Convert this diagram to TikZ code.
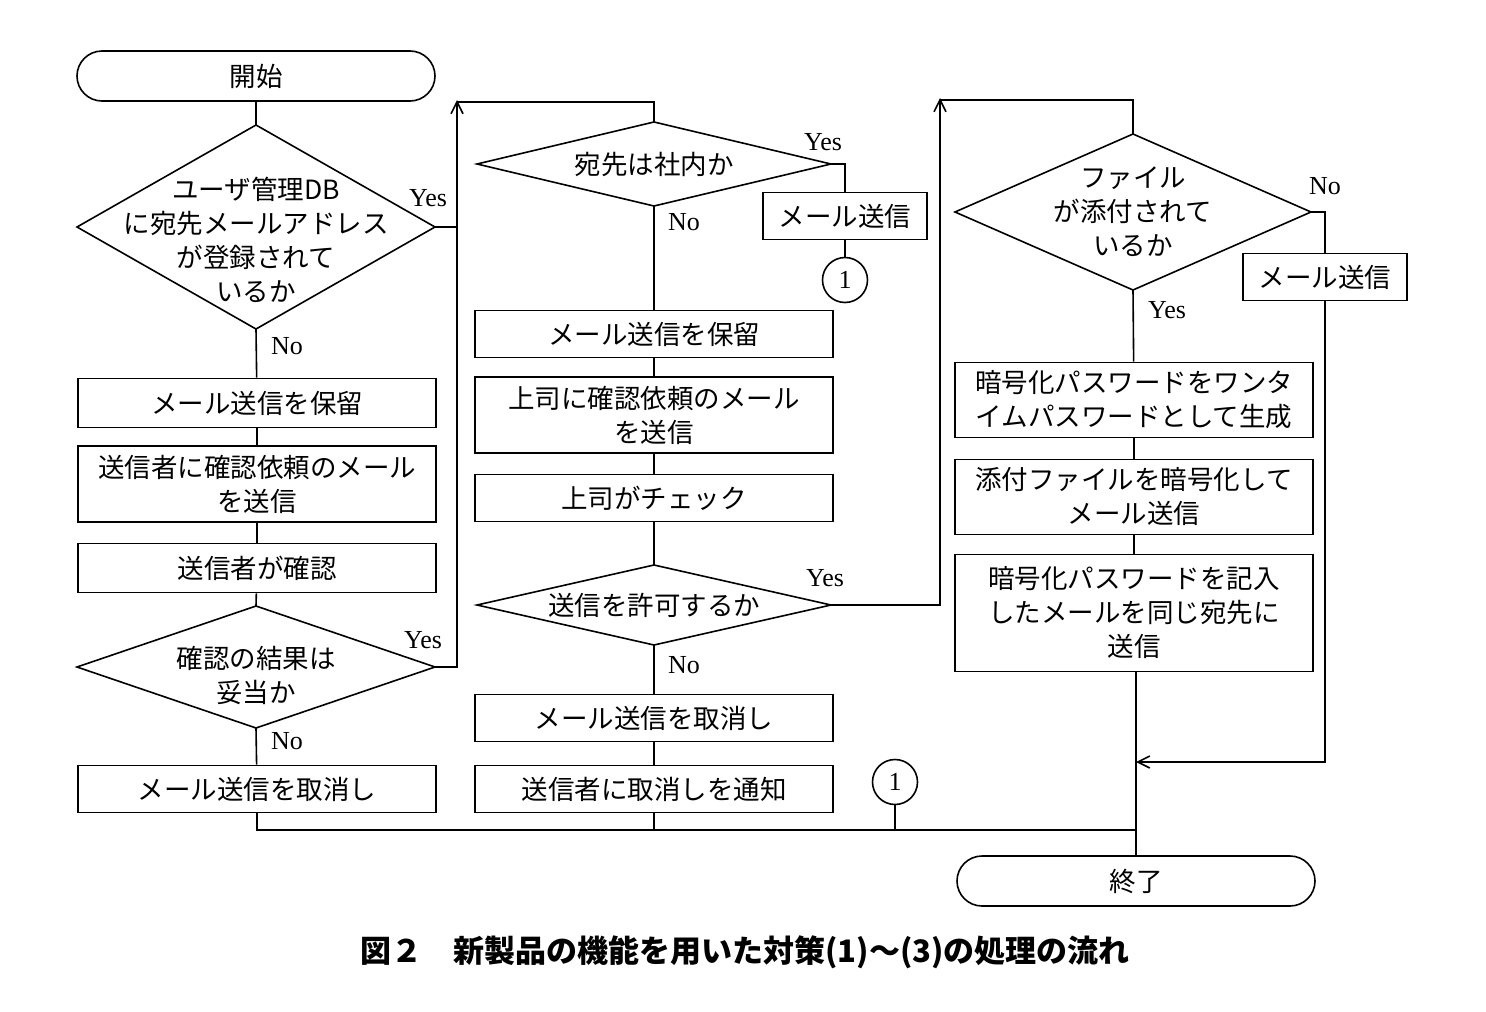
\documentclass[tikz,border=0pt]{standalone}
\usepackage{fontspec}
\setmainfont{Noto Sans CJK JP}
\newfontfamily\lat{Liberation Serif}
\usetikzlibrary{arrows.meta}
\newcommand\mydia[5]{%
  \coordinate (#1-n) at (#2,#3-#5);
  \coordinate (#1-s) at (#2,#3+#5);
  \coordinate (#1-e) at (#2+#4,#3);
  \coordinate (#1-w) at (#2-#4,#3);
  \draw[ln] (#1-n)--(#1-e)--(#1-s)--(#1-w)--cycle;}
\begin{document}
\begin{tikzpicture}[x=1pt,y=-1pt,
  ln/.style={line width=1.6pt},
  box/.style={draw,line width=1.6pt,minimum width=358pt,align=center,inner sep=0pt,font=\fontsize{26.5}{34}\selectfont},
  sbox/.style={draw,line width=1.6pt,minimum width=164pt,minimum height=47pt,inner sep=0pt,font=\fontsize{26.5}{34}\selectfont},
  term/.style={draw,line width=1.6pt,rounded corners=25pt,minimum width=358pt,minimum height=50pt,inner sep=0pt,font=\fontsize{26.5}{34}\selectfont},
  txt/.style={align=center,inner sep=0pt,font=\fontsize{26.5}{34}\selectfont},
  yn/.style={inner sep=0pt,font=\lat\fontsize{26}{30}\selectfont},
  circ/.style={draw,circle,line width=1.6pt,minimum size=45pt,inner sep=0pt,font=\lat\fontsize{26}{30}\selectfont},
  arr/.style={ln,-{Straight Barb[length=12pt,width=12pt,line width=1.6pt]}}]
\useasboundingbox (0,0) rectangle (1486,1012);
% column 1
\node[term] (start) at (256,76) {開始};
\mydia{d1}{256}{227}{179}{102}
\node[txt] (t1) at (256,240) {ユーザ管理DB\\に宛先メールアドレス\\が登録されて\\いるか};
\node[box,minimum height=49pt] (b1) at (257,403) {メール送信を保留};
\node[box,minimum height=76pt] (b2) at (257,484) {送信者に確認依頼のメール\\を送信};
\node[box,minimum height=49pt] (b3) at (257,568) {送信者が確認};
\mydia{d4}{256}{667}{179}{61}
\node[txt] (t4) at (256,675) {確認の結果は\\妥当か};
\node[box,minimum height=47pt] (b5) at (257,789) {メール送信を取消し};
\node[yn] (y1) at (428,198) {Yes};
\node[yn] (n1) at (287,346) {No};
\node[yn] (y4) at (423,640) {Yes};
\node[yn] (n4) at (287,741) {No};
% column 2
\mydia{d2}{654}{164}{177}{42}
\node[txt] (t2) at (654,164) {宛先は社内か};
\node[sbox] (s2) at (845,216) {メール送信};
\node[circ] (c1) at (845,280) {1};
\node[box,minimum height=47pt] (b6) at (654,334) {メール送信を保留};
\node[box,minimum height=76pt] (b7) at (654,415) {上司に確認依頼のメール\\を送信};
\node[box,minimum height=47pt] (b8) at (654,498) {上司がチェック};
\mydia{d3}{654}{605}{177}{40}
\node[txt] (t3) at (654,605) {送信を許可するか};
\node[box,minimum height=47pt] (b9) at (654,718) {メール送信を取消し};
\node[box,minimum height=47pt] (b10) at (654,789) {送信者に取消しを通知};
\node[circ] (c2) at (895,782) {1};
\node[yn] (y2) at (823,142) {Yes};
\node[yn] (n2) at (684,222) {No};
\node[yn] (y3) at (825,578) {Yes};
\node[yn] (n3) at (684,665) {No};
% column 3
\mydia{d5}{1133}{212}{178}{78}
\node[txt] (t5) at (1133,212) {ファイル\\が添付されて\\いるか};
\node[sbox] (s5) at (1325,277) {メール送信};
\node[box,minimum height=75pt] (b11) at (1134,400) {暗号化パスワードをワンタ\\イムパスワードとして生成};
\node[box,minimum height=75pt] (b12) at (1134,497) {添付ファイルを暗号化して\\メール送信};
\node[box,minimum height=117pt] (b13) at (1134,613) {暗号化パスワードを記入\\したメールを同じ宛先に\\送信};
\node[term] (end) at (1136,881) {終了};
\node[yn] (n5) at (1325,186) {No};
\node[yn] (y5) at (1167,310) {Yes};
\coordinate (jn) at (1136,762);
\coordinate (jb) at (1136,830);
% connectors
\draw[ln] (start)--(d1-n);
\draw[ln] (d1-s)--(b1);
\draw[ln] (b1)--(b2); \draw[ln] (b2)--(b3); \draw[ln] (b3)--(d4-n);
\draw[ln] (d4-s)--(b5);
\draw[ln] (d1-e)--(457,227);
\draw[arr] (d4-e)--(457,667)--(457,100);
\draw[ln] (457,102)--(654,102)--(d2-n);
\draw[ln] (d2-e)--(845,164)--(s2);
\draw[ln] (s2)--(c1);
\draw[ln] (d2-s)--(b6); \draw[ln] (b6)--(b7); \draw[ln] (b7)--(b8); \draw[ln] (b8)--(d3-n);
\draw[ln] (d3-s)--(b9); \draw[ln] (b9)--(b10);
\draw[arr] (d3-e)--(940,605)--(940,98);
\draw[ln] (940,100)--(1133,100)--(d5-n);
\draw[ln] (d5-s)--(b11); \draw[ln] (b11)--(b12); \draw[ln] (b12)--(b13);
\draw[ln] (d5-e)--(1325,212)--(s5);
\draw[arr] (s5)--(1325,762)--(jn);
\draw[ln] (b13.south-|jn)--(end);
\draw[ln] (b5)--(257,830)--(jb);
\draw[ln] (b10)--(654,830);
\draw[ln] (c2)--(895,830);
\node[font=\bfseries\fontsize{31}{34}\selectfont,inner sep=0pt] (cap) at (745,952) {図２\quad 新製品の機能を用いた対策(1)～(3)の処理の流れ};
\end{tikzpicture}
\end{document}
